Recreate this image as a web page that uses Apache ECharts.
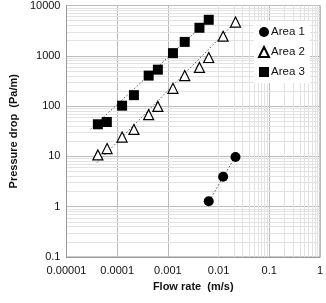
<!DOCTYPE html>
<html>
<head>
<meta charset="utf-8">
<script src="https://cdn.jsdelivr.net/npm/echarts@6/dist/echarts.min.js"></script>
<style>
  html, body { margin: 0; padding: 0; background: #fff; }
  #chart { width: 326px; height: 303px; }
</style>
</head>
<body>
<div id="chart"></div>
<script>
// 数据
const area1Flow = [0.0064, 0.0123, 0.0216];
const area1Drop = [1.28, 3.93, 9.7];

const area2Flow = [0.0000416, 0.0000632, 0.000125, 0.000214, 0.000418, 0.000635, 0.00126, 0.00215, 0.0042, 0.0064, 0.0123, 0.0216];
const area2Drop = [10.7, 14.3, 24.2, 34.3, 67.6, 98.6, 226, 404, 587, 925, 2450, 4690];

const area3Flow = [0.0000416, 0.0000625, 0.000125, 0.000214, 0.000418, 0.000635, 0.00126, 0.00215, 0.0042, 0.0064];
const area3Drop = [43.5, 48.3, 102, 165, 404, 530, 1130, 1890, 3610, 5200];

// 趋势线端点
const trend1Flow = [0.00612, 0.0234];
const trend1Drop = [1.15, 11.7];
const trend2Flow = [0.0000399, 0.0234];
const trend2Drop = [7.5, 5130];
const trend3Flow = [0.0000298, 0.00724];
const trend3Drop = [34.7, 5870];

const xTickLabels = ['0.00001', '0.0001', '0.001', '0.01', '0.1', '1'];
const yTickLabels = ['0.1', '1', '10', '100', '1000', '10000'];

(function() {
    const chart = echarts.init(document.getElementById('chart'));
    const font = 'Liberation Sans, Arial, sans-serif';

    function pairs(xs, ys) {
        return xs.map((x, i) => [x, ys[i]]);
    }

    // 对数坐标的次网格线 (2..9)
    const minorX = [];
    for (let e = -5; e < 0; e++) {
        for (let k = 2; k <= 9; k++) minorX.push({ xAxis: k * Math.pow(10, e) });
    }
    const minorY = [];
    for (let e = -1; e < 4; e++) {
        for (let k = 2; k <= 9; k++) minorY.push({ yAxis: k * Math.pow(10, e) });
    }

    const trendStyle = { color: '#555', width: 1, type: [1.5, 2] };

    const option = {
        animation: false,
        grid: {
            left: 47, right: 5, top: 3, bottom: 46,
            show: true, borderColor: '#999', borderWidth: 1
        },
        legend: {
            data: ['Area 1', 'Area 2', 'Area 3'],
            orient: 'vertical',
            left: 254, top: 21,
            itemWidth: 10, itemHeight: 10, itemGap: 8,
            padding: [5, 5, 5, 4],
            backgroundColor: '#fff',
            z: 10,
            textStyle: { fontFamily: font, fontSize: 11.5, color: '#111', padding: [0, 0, 0, -3] }
        },
        xAxis: {
            type: 'log', logBase: 10, min: 0.00001, max: 1,
            name: 'Flow rate  (m/s)', nameLocation: 'middle', nameGap: 24,
            nameTextStyle: { fontFamily: font, fontSize: 11, fontWeight: 'bold', color: '#111' },
            axisLine: { lineStyle: { color: '#999' } },
            axisTick: { show: false },
            axisLabel: {
                fontFamily: font, fontSize: 11, color: '#111', margin: 8,
                formatter: v => xTickLabels[Math.round(Math.log10(v)) + 5]
            },
            splitLine: { show: true, lineStyle: { color: '#bbb' } }
        },
        yAxis: {
            type: 'log', logBase: 10, min: 0.1, max: 10000,
            name: 'Pressure drop  (Pa/m)', nameLocation: 'middle', nameGap: 33,
            nameTextStyle: { fontFamily: font, fontSize: 11, fontWeight: 'bold', color: '#111' },
            axisLine: { lineStyle: { color: '#999' } },
            axisTick: { show: false },
            axisLabel: {
                fontFamily: font, fontSize: 11, color: '#111', margin: 6,
                formatter: v => yTickLabels[Math.round(Math.log10(v)) + 1]
            },
            splitLine: { show: true, lineStyle: { color: '#bbb' } }
        },
        series: [
            {
                name: 'grid', type: 'line', data: [], silent: true, z: 0,
                markLine: {
                    silent: true, symbol: 'none', label: { show: false }, z: 0,
                    animation: false,
                    lineStyle: { color: '#e2e2e2', width: 1, type: 'solid' },
                    emphasis: { disabled: true },
                    data: minorX.concat(minorY)
                }
            },
            { type: 'line', data: pairs(trend1Flow, trend1Drop), showSymbol: false, silent: true, lineStyle: trendStyle, z: 1 },
            { type: 'line', data: pairs(trend2Flow, trend2Drop), showSymbol: false, silent: true, lineStyle: trendStyle, z: 1 },
            { type: 'line', data: pairs(trend3Flow, trend3Drop), showSymbol: false, silent: true, lineStyle: trendStyle, z: 1 },
            {
                name: 'Area 1', type: 'scatter', data: pairs(area1Flow, area1Drop),
                symbol: 'circle', symbolSize: 10,
                itemStyle: { color: '#000', opacity: 1 }, z: 3
            },
            {
                name: 'Area 2', type: 'scatter', data: pairs(area2Flow, area2Drop),
                symbol: 'triangle', symbolSize: 10,
                itemStyle: { color: '#fff', borderColor: '#000', borderWidth: 1.2, opacity: 1 }, z: 3
            },
            {
                name: 'Area 3', type: 'scatter', data: pairs(area3Flow, area3Drop),
                symbol: 'rect', symbolSize: 10,
                itemStyle: { color: '#000', opacity: 1 }, z: 3
            }
        ]
    };

    chart.setOption(option);
})();
</script>
</body>
</html>
